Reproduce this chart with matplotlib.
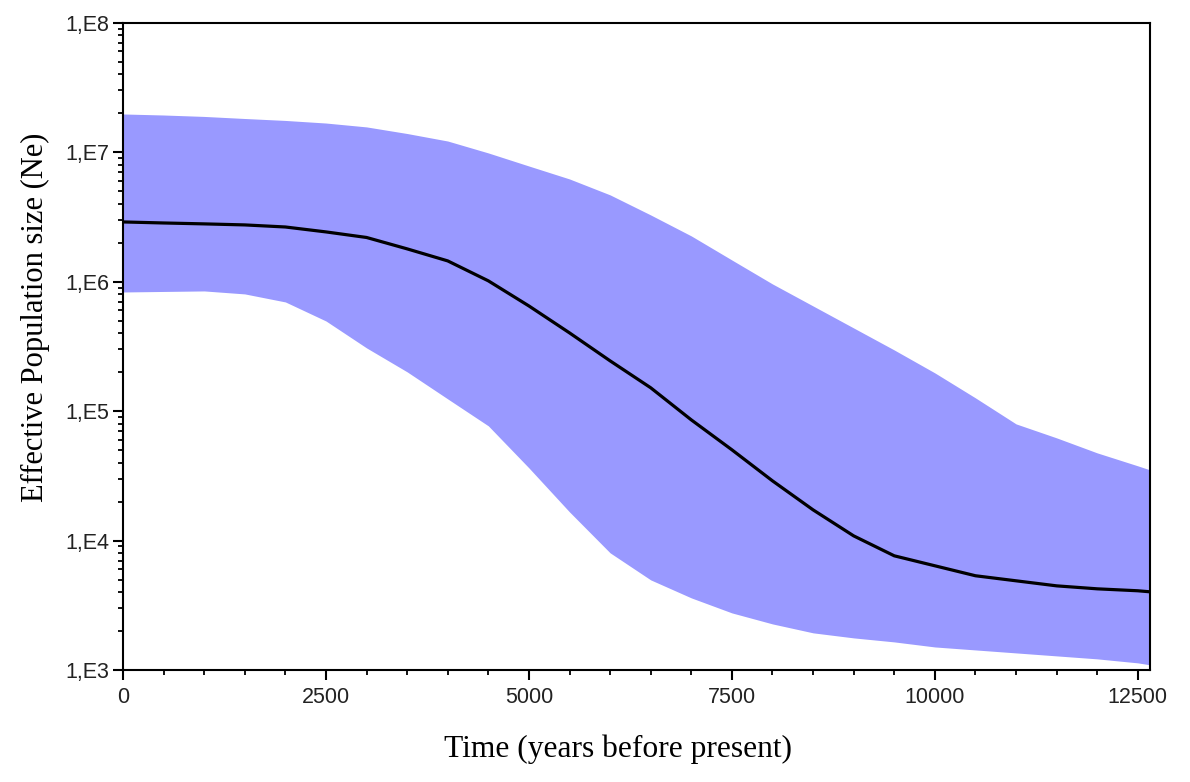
import matplotlib
matplotlib.use("Agg")
import matplotlib.pyplot as plt
from matplotlib.ticker import FixedLocator, LogLocator, NullFormatter, FuncFormatter, MultipleLocator
import numpy as np

# Time (years before present)
years = [0, 500, 1000, 1500, 2000, 2500, 3000, 3500, 4000, 4500, 5000, 5500, 6000,
         6500, 7000, 7500, 8000, 8500, 9000, 9500, 10000, 10500, 11000, 11500,
         12000, 12500, 12650]
# log10 of effective population size: median, upper and lower 95% HPD
log_median = [6.461, 6.453, 6.446, 6.438, 6.422, 6.384, 6.341, 6.253, 6.160, 6.006,
              5.812, 5.604, 5.388, 5.180, 4.932, 4.701, 4.461, 4.237, 4.036, 3.882,
              3.805, 3.728, 3.689, 3.650, 3.627, 3.612, 3.604]
log_upper = [7.295, 7.287, 7.276, 7.260, 7.245, 7.225, 7.195, 7.144, 7.086, 6.994,
             6.893, 6.793, 6.670, 6.515, 6.353, 6.167, 5.982, 5.812, 5.642, 5.472,
             5.295, 5.102, 4.901, 4.793, 4.677, 4.577, 4.546]
log_lower = [5.920, 5.924, 5.928, 5.905, 5.843, 5.696, 5.488, 5.303, 5.094, 4.886,
             4.561, 4.221, 3.905, 3.696, 3.557, 3.441, 3.356, 3.287, 3.248, 3.217,
             3.178, 3.155, 3.132, 3.109, 3.086, 3.055, 3.040]

x_ticks = [0, 2500, 5000, 7500, 10000, 12500]
y_ticks = [1e3, 1e4, 1e5, 1e6, 1e7, 1e8]

t = np.array(years, dtype=float)
med = 10 ** np.array(log_median)
up = 10 ** np.array(log_upper)
lo = 10 ** np.array(log_lower)

fig = plt.figure(figsize=(11.9, 7.82), dpi=100)
ax = fig.add_axes([123 / 1190, 1 - 670 / 782, (1150 - 123) / 1190, (670 - 22.7) / 782])

ax.fill_between(t, lo, up, color="#9999FF", linewidth=0, zorder=1)
ax.plot(t, med, color="black", linewidth=2.3, zorder=2, solid_capstyle="butt",
        solid_joinstyle="round")

ax.set_yscale("log")
ax.set_xlim(0, 12650)
ax.set_ylim(1e3, 1e8)

ax.yaxis.set_major_locator(FixedLocator(y_ticks))
ax.yaxis.set_minor_locator(LogLocator(base=10, subs=np.arange(2, 10), numticks=20))
ax.yaxis.set_minor_formatter(NullFormatter())
ax.yaxis.set_major_formatter(FuncFormatter(lambda v, p: "1,E%d" % int(round(np.log10(v)))))

ax.xaxis.set_major_locator(FixedLocator(x_ticks))
ax.xaxis.set_minor_locator(MultipleLocator(500))

for lbl in ax.get_xticklabels() + ax.get_yticklabels():
    lbl.set_fontfamily(["Liberation Sans", "DejaVu Sans"])
    lbl.set_fontsize(15.5)
    lbl.set_color("#222222")

ax.tick_params(axis="both", which="major", direction="out", length=7, width=1.5,
               color="black", top=False, right=False)
ax.tick_params(axis="both", which="minor", direction="out", length=3.5, width=1.3,
               color="black", top=False, right=False)
ax.tick_params(axis="x", which="major", pad=5)
ax.tick_params(axis="y", which="major", pad=3)

for sp in ax.spines.values():
    sp.set_linewidth(1.5)
    sp.set_color("black")

serif = ["Liberation Serif", "DejaVu Serif"]
ax.set_xlabel("Time (years before present)", fontfamily=serif, fontsize=22.7)
ax.set_ylabel("Effective Population size (Ne)", fontfamily=serif, fontsize=22)
ax.xaxis.set_label_coords(0.482, -0.1)
ax.yaxis.set_label_coords(-0.071, 0.5446)

fig.savefig("out.png", dpi=100)
